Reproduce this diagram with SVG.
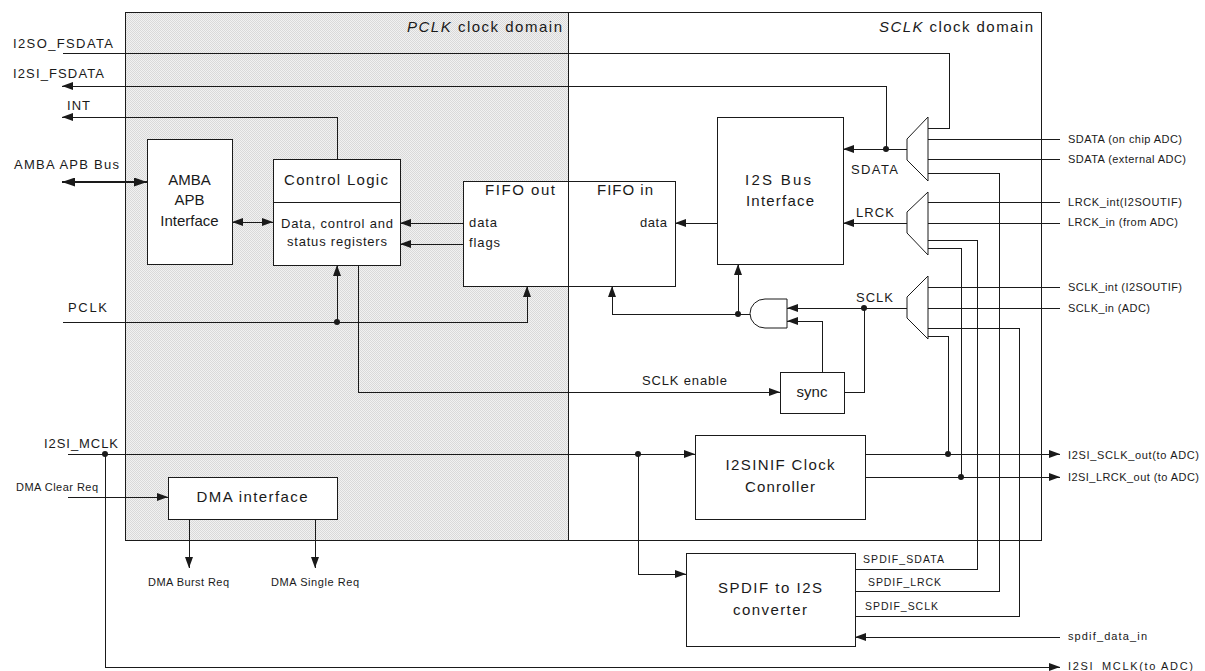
<svg xmlns="http://www.w3.org/2000/svg" width="1205" height="671" viewBox="0 0 1205 671">
<style>
.ln{fill:none;stroke:#1a1a1a;stroke-width:1;shape-rendering:crispEdges}
.bus{fill:none;stroke:#1a1a1a;stroke-width:2;shape-rendering:crispEdges}
.box{fill:#fff;stroke:#1a1a1a;stroke-width:1;shape-rendering:crispEdges}
.mux{fill:#fff;stroke:#1a1a1a;stroke-width:1}
.dot{fill:#1a1a1a}
text{font-family:"Liberation Sans",Arial,sans-serif;fill:#1a1a1a}
.s13{font-size:13px}
.s11{font-size:11px}
.s10{font-size:10.5px}
.s15{font-size:15px}
.s14{font-size:14px}
.mid{text-anchor:middle}
.ar{marker-end:url(#ah)}
</style>
<defs>
<pattern id="dith" width="2" height="2" patternUnits="userSpaceOnUse">
<rect width="2" height="2" fill="#f1f1f1"/>
<rect width="1" height="1" fill="#d9d9d9"/>
<rect x="1" y="1" width="1" height="1" fill="#d9d9d9"/>
</pattern>
<marker id="ah" markerUnits="userSpaceOnUse" markerWidth="11" markerHeight="8" refX="11" refY="4" orient="auto-start-reverse">
<path d="M0,0 L11,4 L0,8 z" fill="#1a1a1a"/>
</marker>
<marker id="ahb" markerUnits="userSpaceOnUse" markerWidth="13" markerHeight="9" refX="13" refY="4.5" orient="auto-start-reverse">
<path d="M0,0 L13,4.5 L0,9 z" fill="#1a1a1a"/>
</marker>
</defs>

<g id="domains">
<rect x="125" y="12" width="443" height="528" fill="url(#dith)"/>
<rect x="125" y="12" width="916" height="528" class="ln"/>
<line x1="568" y1="12" x2="568" y2="540" class="ln"/>
<text x="562" y="32" class="s15" text-anchor="end" textLength="155"><tspan font-style="italic">PCLK</tspan> clock domain</text>
<text x="1033" y="32" class="s15" text-anchor="end" textLength="154"><tspan font-style="italic">SCLK</tspan> clock domain</text>
</g>

<g id="connectors">
<path class="ln" d="M63,53 H949 V128 H928"/>
<path class="ln ar" d="M886,149 V86 H62"/>
<path class="ln ar" d="M337,160 V117 H62"/>
<path class="bus" d="M62,182 H147" marker-start="url(#ahb)" marker-end="url(#ahb)"/>
<path class="ln" d="M232,222 H273" marker-start="url(#ah)" marker-end="url(#ah)"/>
<path class="ln ar" d="M463,223 H400"/>
<path class="ln ar" d="M463,244 H400"/>
<path class="ln ar" d="M717,223 H675"/>
<path class="ln ar" d="M907,149 H843"/>
<path class="ln ar" d="M907,223 H843"/>
<path class="ln ar" d="M907,308 H787"/>
<path class="ln" d="M864,308 V392 H844"/>
<path class="ln ar" d="M822,372 V321 H787"/>
<path class="ln ar" d="M750,314 H612 V286"/>
<path class="ln ar" d="M738,314 V264"/>
<path class="ln ar" d="M63,322 H527 V286"/>
<path class="ln ar" d="M337,322 V265"/>
<path class="ln ar" d="M358,265 V392 H780"/>
<path class="ln ar" d="M68,454 H695"/>
<path class="ln ar" d="M638,454 V574 H686"/>
<path class="ln ar" d="M105,454 V667 H1060"/>
<path class="ln ar" d="M68,497 H168"/>
<path class="ln ar" d="M189,519 V568"/>
<path class="ln ar" d="M315,519 V568"/>
<path class="ln" d="M928,139 H1060 M928,159 H1060 M928,202 H1060 M928,223 H1060 M928,287 H1060 M928,308 H1060"/>
<path class="ln" d="M928,173 H999 V591 H855"/>
<path class="ln" d="M928,240 H977 V569 H855"/>
<path class="ln" d="M928,248 H961 V477"/>
<path class="ln" d="M928,328 H1019 V616 H855"/>
<path class="ln" d="M928,336 H948 V454"/>
<path class="ln ar" d="M865,454 H1060"/>
<path class="ln ar" d="M865,477 H1060"/>
<path class="ln ar" d="M1060,637 H855"/>
<circle class="dot" cx="886" cy="149" r="3"/>
<circle class="dot" cx="864" cy="308" r="3"/>
<circle class="dot" cx="738" cy="314" r="3"/>
<circle class="dot" cx="337" cy="322" r="3"/>
<circle class="dot" cx="105" cy="454" r="3"/>
<circle class="dot" cx="638" cy="454" r="3"/>
<circle class="dot" cx="948" cy="454" r="3"/>
<circle class="dot" cx="961" cy="477" r="3"/>
<text x="851" y="174" class="s13" textLength="47">SDATA</text>
<text x="856" y="217" class="s13" textLength="38">LRCK</text>
<text x="856" y="302" class="s13" textLength="37">SCLK</text>
<text x="642" y="385" class="s13" textLength="85">SCLK enable</text>
<text x="863" y="563" class="s10" textLength="81">SPDIF_SDATA</text>
<text x="868" y="586" class="s10" textLength="73">SPDIF_LRCK</text>
<text x="865" y="610" class="s10" textLength="73">SPDIF_SCLK</text>
</g>

<g id="ext-labels">
<text x="13" y="48" class="s13" textLength="100">I2SO_FSDATA</text>
<text x="13" y="78" class="s13" textLength="91">I2SI_FSDATA</text>
<text x="67" y="110" class="s13" textLength="23">INT</text>
<text x="14" y="169" class="s13" textLength="105">AMBA APB Bus</text>
<text x="68" y="312" class="s13" textLength="39">PCLK</text>
<text x="44" y="448" class="s13" textLength="74">I2SI_MCLK</text>
<text x="16" y="491" class="s11" textLength="82">DMA Clear Req</text>
<text x="148" y="586" class="s11" textLength="81">DMA Burst Req</text>
<text x="271" y="586" class="s11" textLength="88">DMA Single Req</text>
<text x="1068" y="143" class="s11" textLength="114">SDATA (on chip ADC)</text>
<text x="1068" y="163" class="s11" textLength="118">SDATA (external ADC)</text>
<text x="1068" y="206" class="s11" textLength="114">LRCK_int(I2SOUTIF)</text>
<text x="1068" y="226" class="s11" textLength="110">LRCK_in (from ADC)</text>
<text x="1068" y="291" class="s11" textLength="114">SCLK_int (I2SOUTIF)</text>
<text x="1068" y="312" class="s11" textLength="82">SCLK_in (ADC)</text>
<text x="1068" y="459" class="s11" textLength="131">I2SI_SCLK_out(to ADC)</text>
<text x="1068" y="481" class="s11" textLength="131">I2SI_LRCK_out (to ADC)</text>
<text x="1068" y="640" class="s11" textLength="79">spdif_data_in</text>
<text x="1068" y="670" class="s11" textLength="125">I2SI_MCLK(to ADC)</text>
</g>

<g id="amba">
<rect x="147" y="139" width="85" height="125" class="box"/>
<text x="189.5" y="185" class="s15 mid">AMBA</text>
<text x="189.5" y="205" class="s15 mid">APB</text>
<text x="189.5" y="226" class="s15 mid">Interface</text>
</g>

<g id="control">
<rect x="273" y="159" width="127" height="106" class="box"/>
<line x1="273" y1="202" x2="400" y2="202" class="ln"/>
<text x="284" y="185" class="s15" textLength="104">Control Logic</text>
<text x="281" y="228" class="s13" textLength="112">Data, control and</text>
<text x="287" y="246" class="s13" textLength="100">status registers</text>
</g>

<g id="fifo">
<rect x="463" y="181" width="212" height="105" class="box"/>
<line x1="568" y1="181" x2="568" y2="286" class="ln"/>
<text x="485" y="195" class="s15" textLength="70">FIFO out</text>
<text x="597" y="195" class="s15" textLength="56">FIFO in</text>
<text x="469" y="227" class="s13" textLength="28">data</text>
<text x="469" y="247" class="s13" textLength="31">flags</text>
<text x="667" y="227" class="s13" text-anchor="end" textLength="27">data</text>
</g>

<g id="i2sbus">
<rect x="717" y="117" width="126" height="147" class="box"/>
<text x="745" y="185" class="s15" textLength="66">I2S Bus</text>
<text x="746" y="206" class="s15" textLength="68">Interface</text>
</g>

<g id="mux-sdata">
<path class="mux" d="M928,117 V181 L907,160 V139 Z"/>
</g>
<g id="mux-lrck">
<path class="mux" d="M928,192 V255 L907,233 V212 Z"/>
</g>
<g id="mux-sclk">
<path class="mux" d="M928,276 V339 L907,318 V297 Z"/>
</g>

<g id="and-gate">
<path class="mux" d="M787,299 H765 A15,14.5 0 0 0 765,328 H787 Z"/>
</g>

<g id="sync">
<rect x="780" y="372" width="64" height="41" class="box"/>
<text x="812" y="397" class="s15 mid">sync</text>
</g>

<g id="clkctrl">
<rect x="695" y="435" width="170" height="84" class="box"/>
<text x="780" y="470" class="s15 mid" textLength="109">I2SINIF Clock</text>
<text x="780" y="492" class="s15 mid" textLength="70">Conroller</text>
</g>

<g id="spdif">
<rect x="686" y="553" width="169" height="93" class="box"/>
<text x="770" y="593" class="s15 mid" textLength="104">SPDIF to I2S</text>
<text x="770" y="615" class="s15 mid" textLength="74">converter</text>
</g>

<g id="dma">
<rect x="168" y="477" width="169" height="42" class="box"/>
<text x="252" y="502" class="s15 mid" textLength="111">DMA interface</text>
</g>
</svg>
